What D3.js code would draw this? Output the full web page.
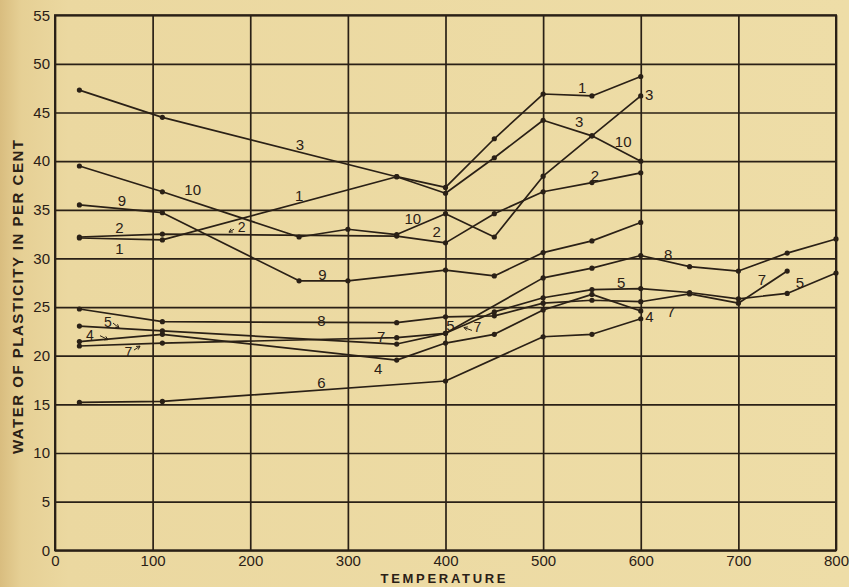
<!DOCTYPE html>
<html>
<head>
<meta charset="utf-8">
<script src="https://cdn.jsdelivr.net/npm/d3@7"></script>
<style>
  html, body { margin: 0; padding: 0; background: #ebd9a1; }
  svg { display: block; }
  text { font-family: "Liberation Sans", "DejaVu Sans", sans-serif; fill: #2a2016; }
</style>
</head>
<body>
<svg id="chart" width="849" height="587"></svg>
<script>
// Water of plasticity (per cent) against temperature, ten clay samples
const s1  = [[25,32.1],[110,31.9],[350,38.4],[400,37.3],[450,42.3],[500,46.9],[550,46.7],[600,48.7]];
const s2  = [[25,32.2],[110,32.5],[350,32.3],[400,31.6],[450,34.6],[500,36.85],[550,37.8],[600,38.8]];
const s3  = [[25,47.3],[110,44.5],[350,38.4],[400,36.7],[450,40.35],[500,44.2],[550,42.6],[600,46.7]];
const s4  = [[25,21.45],[110,22.2],[350,19.55],[400,21.3],[450,22.2],[500,24.7],[550,26.3],[600,24.6]];
const s5  = [[25,23.05],[110,22.55],[350,21.2],[400,22.3],[450,24.5],[500,25.96],[550,26.8],[600,26.9],[650,26.5],[700,25.85],[750,26.4],[800,28.5]];
const s6  = [[25,15.2],[110,15.3],[400,17.4],[500,21.95],[550,22.2],[600,23.8]];
const s7  = [[25,21.0],[110,21.3],[350,21.85],[400,22.3],[500,28.0],[550,29.0],[600,30.3],[650,29.15],[700,28.7],[750,30.55],[800,32.0]];
const s8  = [[25,24.8],[110,23.5],[350,23.4],[400,24.0],[450,24.1],[500,25.4],[550,25.7],[600,25.55],[650,26.35],[700,25.4],[750,28.7]];
const s9  = [[25,35.5],[110,34.7],[250,27.7],[300,27.7],[400,28.8],[450,28.2],[500,30.6],[550,31.8],[600,33.7]];
const s10 = [[25,39.5],[110,36.85],[250,32.2],[300,33.0],[350,32.45],[400,34.6],[450,32.2],[500,38.45],[550,42.6],[600,40.0]];
const seriesList = [s1, s2, s3, s4, s5, s6, s7, s8, s9, s10];

const xTicks = [0,100,200,300,400,500,600,700,800];
const yTicks = [0,5,10,15,20,25,30,35,40,45,50,55];

// curve numbers: [text, temperature, percent]
const curveLabels = [
  ["3", 251, 41.6], ["1", 250, 36.3], ["10", 141, 36.9], ["9", 68.5, 35.8],
  ["2", 66, 33.0], ["1", 66, 30.9],
  ["10", 366.5, 33.9], ["2", 391, 32.6], ["9", 274, 28.2],
  ["1", 540, 47.4], ["3", 608.5, 46.7], ["3", 537, 43.9], ["10", 582, 41.9], ["2", 553, 38.4],
  ["8", 628, 30.2], ["5", 580, 27.4], ["7", 724, 27.7], ["5", 763, 27.4],
  ["8", 273, 23.5], ["7", 334, 21.8], ["4", 331, 18.5], ["6", 273, 17.1],
  ["5", 405, 22.9], ["4", 609, 23.9], ["7", 631, 24.4]
];

// numbers with a short pointer stroke: text position, then stroke start and end
const pointers = [
  { t: "5", tx: 54.3, ty: 23.3, ax: [59.4, 23.36, 65.6, 22.85] },
  { t: "4", tx: 35.8, ty: 21.95, ax: [46.1, 22.06, 54.3, 21.65] },
  { t: "7", tx: 75.1, ty: 20.2, ax: [80.9, 20.58, 87.1, 20.99] },
  { t: "2", tx: 191.2, ty: 33.1, ax: [183.3, 33.0, 178.2, 32.7] },
  { t: "7", tx: 432.6, ty: 22.8, ax: [427.1, 22.6, 418.9, 22.9] }
];

const svg = d3.select("#chart");
const W = 849, H = 587;

// paper tone, a little darker along the left edge
const defs = svg.append("defs");
const grad = defs.append("linearGradient").attr("id", "paper").attr("x1", 0).attr("x2", 1).attr("y1", 0).attr("y2", 0);
grad.append("stop").attr("offset", "0%").attr("stop-color", "#d9bd7f");
grad.append("stop").attr("offset", "2.5%").attr("stop-color", "#e6d095");
grad.append("stop").attr("offset", "8%").attr("stop-color", "#ebd8a0");
grad.append("stop").attr("offset", "100%").attr("stop-color", "#eedda7");
svg.append("rect").attr("width", W).attr("height", H).attr("fill", "url(#paper)");

const x = d3.scaleLinear().domain([0, 800]).range([55, 836]);
const y = d3.scaleLinear().domain([0, 55]).range([550.3, 15.2]);
const ink = "#2a2016";

// grid via axes
const gx = svg.append("g").attr("transform", `translate(0,${y(0)})`)
  .call(d3.axisBottom(x).tickValues(xTicks).tickSize(-(y(0) - y(55))).tickFormat(d3.format("d")));
const gy = svg.append("g").attr("transform", `translate(${x(0)},0)`)
  .call(d3.axisLeft(y).tickValues(yTicks).tickSize(-(x(800) - x(0))).tickFormat(d3.format("d")).tickPadding(5));
[gx, gy].forEach(g => {
  g.select(".domain").remove();
  g.selectAll(".tick line").attr("stroke", ink).attr("stroke-width", 1.7);
  g.selectAll(".tick text").attr("font-size", 15).attr("fill", ink)
    .style("font-family", "'Liberation Sans', sans-serif");
});
gx.selectAll(".tick text").attr("y", 15.5).attr("dy", 0);
svg.append("rect").attr("x", x(0)).attr("y", y(55)).attr("width", x(800) - x(0)).attr("height", y(0) - y(55))
  .attr("fill", "none").attr("stroke", ink).attr("stroke-width", 2);

// curves
const line = d3.line().x(d => x(d[0])).y(d => y(d[1]));
svg.append("g").selectAll("path").data(seriesList).join("path")
  .attr("d", line).attr("fill", "none").attr("stroke", ink).attr("stroke-width", 1.7)
  .attr("stroke-linejoin", "round");
svg.append("g").selectAll("circle").data(seriesList.flat()).join("circle")
  .attr("cx", d => x(d[0])).attr("cy", d => y(d[1])).attr("r", 2.6).attr("fill", ink);

// curve numbers
svg.append("g").selectAll("text").data(curveLabels).join("text")
  .attr("x", d => x(d[1])).attr("y", d => y(d[2])).attr("text-anchor", "middle")
  .attr("dominant-baseline", "middle").attr("font-size", 15).text(d => d[0]);

const pg = svg.append("g");
pointers.forEach(p => {
  pg.append("text").attr("x", x(p.tx)).attr("y", y(p.ty)).attr("text-anchor", "middle")
    .attr("dominant-baseline", "middle").attr("font-size", 14).text(p.t);
  pg.append("line").attr("x1", x(p.ax[0])).attr("y1", y(p.ax[1])).attr("x2", x(p.ax[2])).attr("y2", y(p.ax[3]))
    .attr("stroke", ink).attr("stroke-width", 1);
  const ang = Math.atan2(y(p.ax[3]) - y(p.ax[1]), x(p.ax[2]) - x(p.ax[0]));
  const hx = x(p.ax[2]), hy = y(p.ax[3]);
  pg.append("path")
    .attr("d", `M${hx - 4 * Math.cos(ang - 0.5)},${hy - 4 * Math.sin(ang - 0.5)}L${hx},${hy}L${hx - 4 * Math.cos(ang + 0.5)},${hy - 4 * Math.sin(ang + 0.5)}`)
    .attr("fill", "none").attr("stroke", ink).attr("stroke-width", 1);
});

// axis titles
svg.append("text").attr("transform", "translate(23,297) rotate(-90)").attr("text-anchor", "middle")
  .attr("font-size", 15).attr("font-weight", "bold").attr("textLength", 314).attr("lengthAdjust", "spacing")
  .text("WATER OF PLASTICITY IN PER CENT");
svg.append("text").attr("x", 443).attr("y", 583).attr("text-anchor", "middle")
  .attr("font-size", 13).attr("font-weight", "bold").attr("textLength", 125).attr("lengthAdjust", "spacing")
  .text("TEMPERATURE");
</script>
</body>
</html>
